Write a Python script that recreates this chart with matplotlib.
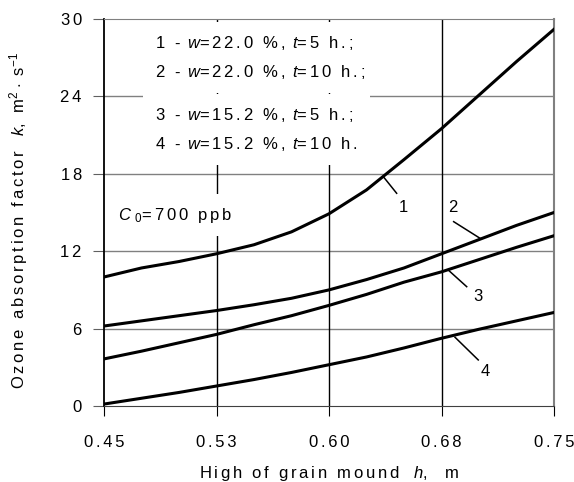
import matplotlib
matplotlib.use("Agg")
import matplotlib.pyplot as plt

plt.rcParams['font.family'] = ['Liberation Sans', 'DejaVu Sans']
plt.rcParams['mathtext.fontset'] = 'custom'
plt.rcParams['mathtext.rm'] = 'Liberation Sans'
plt.rcParams['mathtext.it'] = 'Liberation Sans:italic'

# grain mound height, m
h = [0.45, 0.475, 0.50, 0.525, 0.55, 0.575, 0.60, 0.625, 0.65, 0.675, 0.70, 0.725, 0.75]
# ozone absorption factor k for the four regimes
k1 = [10.0, 10.7, 11.2, 11.8, 12.5, 13.5, 14.9, 16.75, 19.1, 21.5, 24.1, 26.7, 29.2]
k2 = [6.2, 6.6, 7.0, 7.4, 7.85, 8.35, 9.0, 9.8, 10.7, 11.8, 12.9, 14.0, 15.0]
k3 = [3.65, 4.25, 4.9, 5.55, 6.3, 7.0, 7.8, 8.65, 9.6, 10.4, 11.35, 12.3, 13.2]
k4 = [0.15, 0.6, 1.05, 1.55, 2.05, 2.6, 3.2, 3.8, 4.5, 5.25, 5.95, 6.6, 7.25]

xticks = [0.45, 0.525, 0.60, 0.675, 0.75]
xlabels = ["0.45", "0.53", "0.60", "0.68", "0.75"]
yticks = [0, 6, 12, 18, 24, 30]

# curve labels: (text, line start, line end, text position)
labels = [
    ("1", (0.6362, 17.78), (0.6451, 16.49), (0.6493, 15.35)),
    ("2", (0.7007, 13.0), (0.6831, 14.29), (0.6827, 15.35)),
    ("3", (0.6795, 10.54), (0.6918, 9.25), (0.6995, 8.47)),
    ("4", (0.684, 5.33), (0.6995, 3.57), (0.704, 2.66)),
]


def spaced(s):
    # the original uses wide letter spacing: put small spaces between characters
    lines = []
    for line in s.split('\n'):
        parts = line.split('$')
        for i in range(0, len(parts), 2):
            parts[i] = '\u2006'.join(parts[i])
        lines.append('$'.join(parts))
    return '\n'.join(lines)


fig = plt.figure(figsize=(5.74, 4.82), dpi=100)
ax = fig.add_axes([104/574, 1-406/482, 450/574, 387/482])

for k in [k1, k2, k3, k4]:
    ax.plot(h, k, color='black', lw=2.2, zorder=3)

for txt, p0, p1, pt in labels:
    ax.plot([p0[0], p1[0]], [p0[1], p1[1]], color='black', lw=1.1, zorder=3)
    ax.text(pt[0], pt[1], txt, fontsize=12, ha='center', va='center', zorder=4)

ax.set_xlim(0.45, 0.75)
ax.set_ylim(0, 30)
ax.set_xticks(xticks)
ax.set_xticklabels([spaced(s) for s in xlabels])
ax.set_yticks(yticks)
ax.set_yticklabels([spaced(str(y)) for y in yticks])

for y in yticks[1:-1]:
    ax.axhline(y, color='#808080', lw=1, zorder=1)
for x in xticks[1:-1]:
    ax.axvline(x, color='black', lw=1, zorder=1)

ax.spines['left'].set_color('black')
ax.spines['left'].set_linewidth(1.3)
ax.spines['bottom'].set_color('#404040')
ax.spines['top'].set_color('#808080')
ax.spines['right'].set_color('#808080')
ax.spines['right'].set_linewidth(1.5)

ax.tick_params(axis='y', direction='out', length=8, color='#606060', labelsize=12, pad=8)
ax.tick_params(axis='x', direction='out', length=7, color='black', labelsize=12, pad=14)

legend1 = spaced("1 - $w$=22.0 %, $t$=5 h.;\n2 - $w$=22.0 %, $t$=10 h.;")
legend2 = spaced("3 - $w$=15.2 %, $t$=5 h.;\n4 - $w$=15.2 %, $t$=10 h.")
box = dict(fc='white', ec='none', pad=9)
ax.text(0.484, 27.0, legend1, fontsize=12, va='center', ha='left',
        linespacing=1.75, bbox=box, zorder=2)
ax.text(0.484, 21.45, legend2, fontsize=12, va='center', ha='left',
        linespacing=1.75, bbox=box, zorder=2)
ax.text(0.4595, 14.8, spaced("$C$ $_0$=700 ppb"), fontsize=12, va='center', ha='left',
        bbox=dict(fc='white', ec='none', pad=8), zorder=2)

ax.set_xlabel(spaced("High of grain mound  $h$,  m"), fontsize=12, labelpad=10)
ax.set_ylabel(spaced("Ozone absorption factor  $k$, m$^{2}$ $\\cdot$ s$^{-1}$"),
              fontsize=12)
ax.yaxis.set_label_coords(-0.165, 0.478)

fig.savefig("out.png", dpi=100)
